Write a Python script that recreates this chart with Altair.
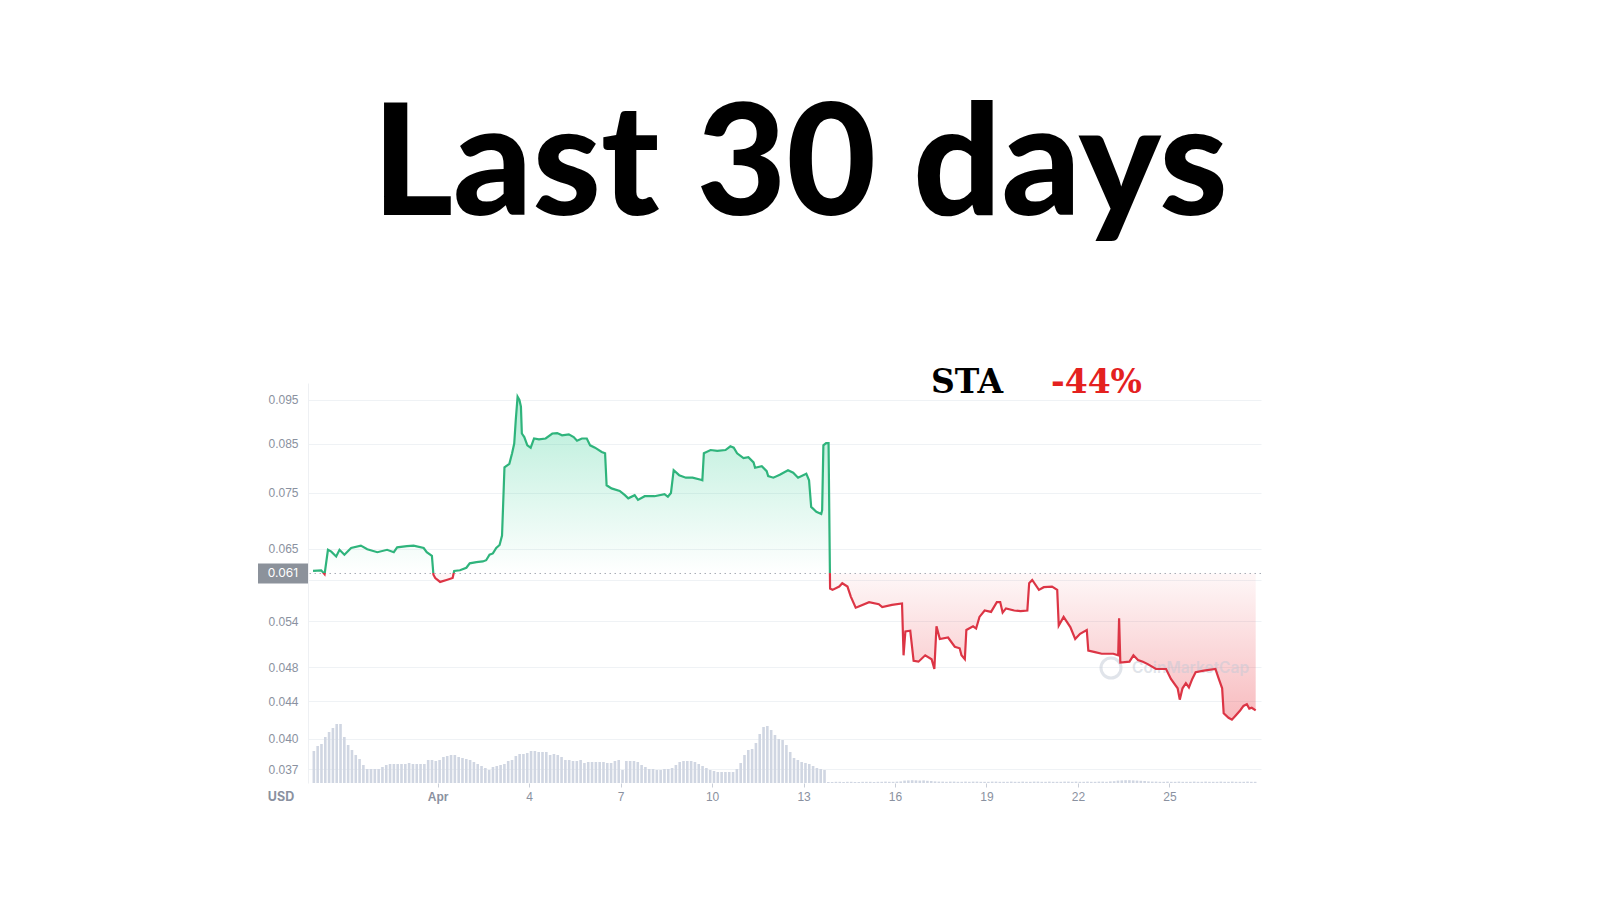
#!/usr/bin/env python3
"""STA price, last 30 days (CoinMarketCap style chart)
"""
import math

import altair as alt
import pandas as pd

OUTPUT_FILE = 'out.html'

GREEN = '#2fb47c'
RED = '#dc3545'
GREY = '#8a91a0'
SLAB = "'DejaVu Serif', serif"

# price: days since Apr 1 00:00, and price in USD
price_day = [
    -4.09, -3.82, -3.71, -3.60, -3.49, -3.33, -3.22, -3.06, -2.84, -2.52,
    -2.31, -1.98, -1.66, -1.44, -1.33, -1.01, -0.79, -0.46, -0.36, -0.19,
    -0.14, -0.08, 0.08, 0.29, 0.49, 0.54, 0.73, 0.94, 1.05, 1.27,
    1.48, 1.59, 1.70, 1.81, 1.92, 2.03, 2.11, 2.19, 2.35, 2.44,
    2.51, 2.56, 2.62, 2.68, 2.73, 2.76, 2.84, 2.94, 3.05, 3.16,
    3.32, 3.54, 3.76, 3.92, 4.08, 4.30, 4.46, 4.57, 4.73, 4.89,
    5.00, 5.16, 5.38, 5.49, 5.54, 5.70, 5.97, 6.14, 6.25, 6.46,
    6.57, 6.79, 7.11, 7.44, 7.55, 7.65, 7.74, 7.92, 8.14, 8.36,
    8.63, 8.68, 8.73, 8.95, 9.17, 9.44, 9.60, 9.71, 9.82, 10.03,
    10.19, 10.36, 10.41, 10.63, 10.79, 10.84, 11.01, 11.22, 11.49, 11.66,
    11.82, 12.09, 12.18, 12.25, 12.42, 12.58, 12.61, 12.65, 12.74, 12.82,
    12.87, 12.95, 13.17, 13.27, 13.44, 13.55, 13.71, 13.77, 14.15, 14.47,
    14.58, 14.90, 15.23, 15.28, 15.34, 15.50, 15.61, 15.77, 15.99, 16.20,
    16.29, 16.36, 16.47, 16.74, 16.96, 17.12, 17.18, 17.29, 17.34, 17.56,
    17.66, 17.77, 17.94, 18.15, 18.34, 18.45, 18.53, 18.64, 18.91, 19.12,
    19.34, 19.40, 19.50, 19.72, 19.88, 20.15, 20.32, 20.37, 20.53, 20.75,
    20.91, 21.07, 21.29, 21.34, 21.56, 21.78, 22.16, 22.32, 22.35, 22.39,
    22.69, 22.82, 22.97, 23.13, 23.29, 23.56, 23.89, 24.05, 24.27, 24.34,
    24.43, 24.54, 24.64, 24.75, 24.86, 25.13, 25.51, 25.62, 25.73, 25.78,
    25.94, 26.05, 26.16, 26.32, 26.43, 26.54, 26.62, 26.70, 26.83,
]
price_usd = [
    0.0614, 0.0615, 0.0609, 0.0648, 0.0645, 0.0637, 0.0648, 0.0640, 0.0651, 0.0655,
    0.0649, 0.0644, 0.0648, 0.0644, 0.0652, 0.0654, 0.0655, 0.0651, 0.0644, 0.0638,
    0.0608, 0.0603, 0.0597, 0.0600, 0.0603, 0.0614, 0.0615, 0.0619, 0.0626, 0.0628,
    0.0629, 0.0631, 0.0640, 0.0642, 0.0651, 0.0656, 0.0672, 0.0800, 0.0807, 0.0829,
    0.0850, 0.0902, 0.0958, 0.0950, 0.0934, 0.0872, 0.0864, 0.0846, 0.0841, 0.0861,
    0.0859, 0.0861, 0.0872, 0.0873, 0.0868, 0.0870, 0.0864, 0.0856, 0.0861, 0.0861,
    0.0846, 0.0841, 0.0832, 0.0829, 0.0764, 0.0758, 0.0753, 0.0745, 0.0739, 0.0745,
    0.0736, 0.0743, 0.0743, 0.0747, 0.0742, 0.0749, 0.0794, 0.0784, 0.0779, 0.0779,
    0.0775, 0.0774, 0.0829, 0.0836, 0.0834, 0.0836, 0.0844, 0.0841, 0.0829, 0.0819,
    0.0821, 0.0810, 0.0799, 0.0802, 0.0792, 0.0782, 0.0779, 0.0785, 0.0794, 0.0789,
    0.0779, 0.0787, 0.0774, 0.0723, 0.0714, 0.0710, 0.0717, 0.0846, 0.0851, 0.0851,
    0.0587, 0.0585, 0.0590, 0.0595, 0.0590, 0.0575, 0.0559, 0.0560, 0.0567, 0.0564,
    0.0560, 0.0563, 0.0565, 0.0495, 0.0526, 0.0527, 0.0488, 0.0487, 0.0495, 0.0490,
    0.0478, 0.0533, 0.0516, 0.0518, 0.0506, 0.0504, 0.0495, 0.0490, 0.0528, 0.0533,
    0.0530, 0.0546, 0.0555, 0.0553, 0.0567, 0.0567, 0.0552, 0.0558, 0.0555, 0.0554,
    0.0555, 0.0595, 0.0600, 0.0585, 0.0589, 0.0590, 0.0585, 0.0534, 0.0546, 0.0532,
    0.0516, 0.0523, 0.0528, 0.0501, 0.0499, 0.0497, 0.0497, 0.0495, 0.0544, 0.0486,
    0.0487, 0.0495, 0.0489, 0.0487, 0.0484, 0.0478, 0.0478, 0.0466, 0.0455, 0.0442,
    0.0455, 0.0461, 0.0456, 0.0466, 0.0474, 0.0476, 0.0478, 0.0466, 0.0455, 0.0427,
    0.0422, 0.0420, 0.0424, 0.0430, 0.0435, 0.0437, 0.0432, 0.0433, 0.0430,
]

# 3-hourly volume, thousand USD
volume_k = [
    320, 370, 390, 460, 510, 550, 590, 590, 460, 380,
    330, 280, 240, 180, 140, 140, 140, 140, 160, 180,
    190, 190, 190, 190, 190, 200, 190, 190, 190, 190,
    230, 230, 220, 230, 260, 270, 280, 280, 260, 250,
    240, 230, 210, 190, 170, 150, 130, 160, 170, 180,
    190, 220, 230, 270, 290, 290, 300, 320, 320, 310,
    310, 310, 280, 290, 280, 260, 230, 230, 220, 220,
    230, 200, 210, 210, 210, 210, 210, 200, 200, 220,
    230, 130, 220, 220, 220, 210, 180, 160, 140, 140,
    130, 130, 140, 140, 150, 180, 210, 220, 220, 220,
    210, 190, 170, 150, 130, 120, 110, 110, 110, 110,
    110, 140, 200, 280, 330, 340, 400, 490, 560, 570,
    530, 480, 440, 430, 380, 310, 250, 230, 210, 200,
    190, 170, 150, 140, 130,
    10, 10, 12, 12, 10, 12, 12, 10, 10, 12,
    12, 12, 10, 12, 12, 14, 12, 12, 14, 16,
    24, 26, 28, 26, 24, 26, 22, 20,
    16, 14, 14, 12, 14, 14, 12, 12, 14, 12,
    14, 14, 12, 12, 12, 14, 14, 12, 12, 12,
    14, 12, 12, 14, 12, 12, 14, 14, 12, 12,
    14, 12, 12, 12, 14, 14, 12, 14, 12, 12,
    14, 12, 12, 14, 14, 12, 16, 18,
    24, 26, 28, 28, 26, 24, 22, 20,
    16, 14, 14, 12, 12, 14, 12, 12, 14, 12,
    12, 12, 14, 12, 12, 14, 12, 12, 12, 14,
    12, 12, 14, 12, 12, 12, 14, 12, 12,
]

open_price = 0.061
y_ticks = [0.037, 0.040, 0.044, 0.048, 0.054, 0.060, 0.065, 0.075, 0.085, 0.095]
tick_days = [1, 4, 7, 10, 13, 16, 19, 22, 25]

apr1 = pd.Timestamp('2022-04-01')
prices = pd.DataFrame({
    't': apr1 + pd.to_timedelta(price_day, unit='D'),
    'price': price_usd,
})
volumes = pd.DataFrame({
    't': pd.date_range('2022-03-27 22:30', periods=len(volume_k), freq='3h'),
    'vol': volume_k,
})
base_df = pd.DataFrame({'base': [open_price], 'label': ['0.061']})

# where the open price cuts the line's bounding box (log scale)
hi, lo = max(price_usd), min(price_usd)
cut = math.log(hi / open_price) / math.log(hi / lo)

x_enc = alt.X(
    't:T',
    scale=alt.Scale(domain=[
        alt.DateTime(year=2022, month=3, date=27, hours=21, minutes=50),
        alt.DateTime(year=2022, month=4, date=27, hours=20, minutes=10),
    ]),
    axis=alt.Axis(
        values=[alt.DateTime(year=2022, month=4, date=d) for d in tick_days],
        labelExpr="date(datum.value) == 1 ? 'Apr' : timeFormat(datum.value, '%-d')",
        labelFontWeight={'condition': {'test': 'date(datum.value) == 1', 'value': 'bold'},
                         'value': 'normal'},
        grid=False, domain=False, tickSize=4, tickColor='#c9ced8',
        labelColor=GREY, labelFontSize=12, labelPadding=4, title=None,
    ),
)
y_scale = alt.Scale(type='log', domain=[0.03573, 0.0992])
# the 0.060 label sits under the open-price box, only its grid line shows
y_axis = alt.Axis(
    values=y_ticks, format='.3f', grid=True, gridColor='#eff2f5', ticks=False,
    labelExpr="abs(datum.value - 0.06) < 0.0001 ? '' : datum.label",
    domain=True, domainColor='#eef0f3', labelColor=GREY, labelFontSize=12,
    labelPadding=10, title=None,
)

bars = alt.Chart(volumes).mark_bar(width=2.6, color='#d0d6e2').encode(
    x_enc,
    alt.Y('vol:Q', scale=alt.Scale(domain=[0, 4000]), axis=None),
)

price_base = alt.Chart(prices).transform_calculate(
    up=f'max(datum.price, {open_price})',
    dn=f'min(datum.price, {open_price})',
    base=f'{open_price}',
)

green_fill = price_base.mark_area(
    color=alt.LinearGradient(
        gradient='linear', x1=0, x2=0, y1=0, y2=1,
        stops=[alt.GradientStop(color='rgba(22,199,132,0.32)', offset=0),
               alt.GradientStop(color='rgba(22,199,132,0.0)', offset=1)],
    )
).encode(x_enc, alt.Y('up:Q', scale=y_scale, axis=y_axis), y2='base:Q')

red_fill = price_base.mark_area(
    color=alt.LinearGradient(
        gradient='linear', x1=0, x2=0, y1=0, y2=1,
        stops=[alt.GradientStop(color='rgba(234,57,67,0.04)', offset=0),
               alt.GradientStop(color='rgba(234,57,67,0.34)', offset=1)],
    )
).encode(x_enc, alt.Y('dn:Q', scale=y_scale, axis=y_axis), y2='base:Q')

open_rule = alt.Chart(base_df).mark_rule(
    color='#a6acb5', strokeDash=[1.5, 3.5], strokeWidth=1
).encode(alt.Y('base:Q', scale=y_scale, axis=y_axis))

line = price_base.mark_line(
    strokeWidth=2.2,
    stroke=alt.LinearGradient(
        gradient='linear', x1=0, x2=0, y1=0, y2=1,
        stops=[alt.GradientStop(color=GREEN, offset=0),
               alt.GradientStop(color=GREEN, offset=cut),
               alt.GradientStop(color=RED, offset=cut),
               alt.GradientStop(color=RED, offset=1)],
    ),
).encode(x_enc, alt.Y('price:Q', scale=y_scale, axis=y_axis))

open_box = alt.Chart(base_df).mark_rule(
    color='#8c929b', strokeWidth=20, strokeCap='butt'
).encode(
    alt.Y('base:Q', scale=y_scale, axis=y_axis),
    x=alt.value(-50), x2=alt.value(0),
)
open_text = alt.Chart(base_df).mark_text(
    color='white', fontSize=12, font='Inter', align='center', baseline='middle'
).encode(
    alt.Y('base:Q', scale=y_scale, axis=y_axis),
    x=alt.value(-25), text='label:N',
)

watermark_logo = alt.Chart(pd.DataFrame({'label': ['m']})).mark_point(
    shape='circle', size=400, strokeWidth=3, color='#c3cad6', opacity=0.5
).encode(x=alt.value(803), y=alt.value(285))
watermark = alt.Chart(pd.DataFrame({'label': ['CoinMarketCap']})).mark_text(
    font='Inter', fontSize=15.5, fontWeight=600, color='#c3cad6', opacity=0.5,
    align='left', baseline='middle'
).encode(x=alt.value(824), y=alt.value(285), text='label:N')

price_layer = alt.layer(
    green_fill, red_fill, open_rule, watermark_logo, watermark, line,
    open_box, open_text,
)


def note(label, x, y, **style):
    return alt.Chart(pd.DataFrame({'label': [label]})).mark_text(**style).encode(
        x=alt.value(x), y=alt.value(y), text='label:N'
    )


title = note('Last 30 days', 492, -168, font="'Lato Black', Lato", fontSize=155,
             fontWeight=900, color='black', align='center', baseline='alphabetic')
ticker = note('STA', 623, 10, font=SLAB, fontSize=33, fontWeight='bold',
              color='black', align='left', baseline='alphabetic')
change = note('-44%', 743, 10, font=SLAB, fontSize=33, fontWeight='bold',
              color='#e4211f', align='left', baseline='alphabetic')
usd = note('USD', -27, 414, font='Inter', fontSize=12.5, fontWeight='bold',
           color=GREY, align='center', baseline='middle')

chart = alt.layer(
    bars, price_layer, title, ticker, change, usd
).resolve_scale(
    y='independent'
).properties(
    width=953, height=400,
    padding={'left': 300, 'top': 375, 'right': 331, 'bottom': 109},
    autosize=alt.AutoSizeParams(type='none'),
    background='white',
).configure_view(stroke=None)

chart.save(OUTPUT_FILE, embed_options={'renderer': 'svg', 'actions': False})
